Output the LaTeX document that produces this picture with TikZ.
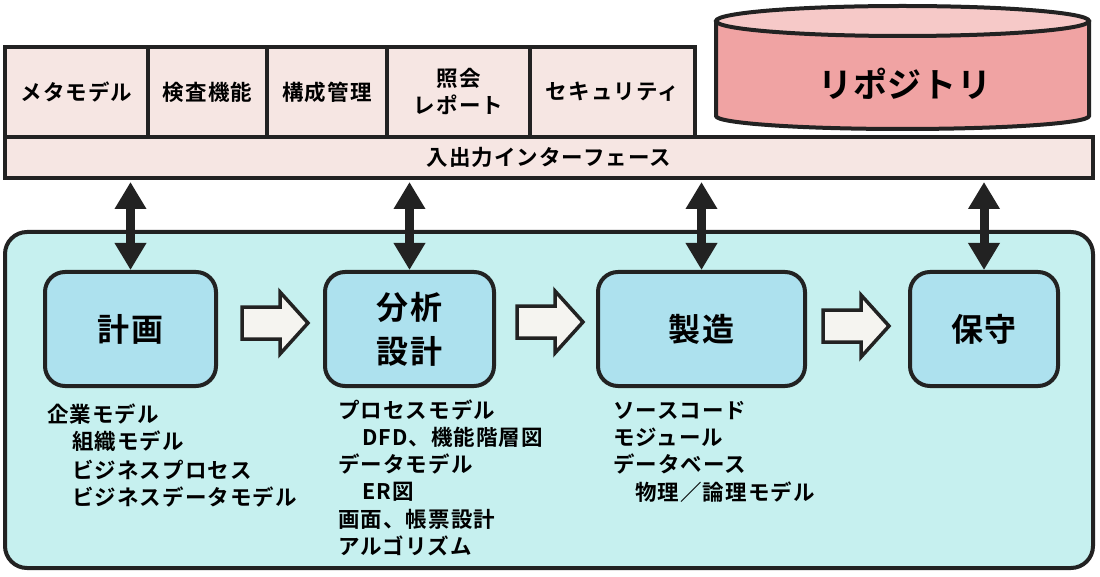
\documentclass[tikz,border=0pt]{standalone}
\usepackage{fontspec}
\setmainfont{Noto Sans CJK JP}[BoldFont={Noto Sans CJK JP Bold}]
\usetikzlibrary{arrows.meta,calc}
\definecolor{lineC}{HTML}{222222}
\definecolor{topC}{HTML}{F6E6E3}
\definecolor{cylBody}{HTML}{F0A3A3}
\definecolor{cylTop}{HTML}{F6C9C8}
\definecolor{mainC}{HTML}{C6F0EF}
\definecolor{stageC}{HTML}{ADE1EE}
\definecolor{blkC}{HTML}{F5F4F0}
\tikzset{
  smallfont/.style={font=\fontsize{21.5}{27}\selectfont\bfseries\addfontfeature{LetterSpace=5}},
  topbox/.style={draw=lineC, line width=4pt, fill=topC, minimum height=90pt, inner sep=0pt, align=center, smallfont},
  stagebox/.style={draw=lineC, line width=4pt, fill=stageC, rounded corners=20pt, minimum height=114pt, inner sep=0pt, align=center, font=\fontsize{32}{44}\selectfont\bfseries\addfontfeature{LetterSpace=4}},
  lst/.style={anchor=base west, inner sep=0pt, smallfont},
  dblarrow/.style={draw=lineC, line width=9pt, {Triangle[width=30pt,length=27pt]}-{Triangle[width=30pt,length=27pt]}, shorten <=2pt, shorten >=0pt},
  blk/.style={draw=lineC, line width=3.5pt, fill=blkC, line join=miter}
}
\newcommand\myblk[2]{%
  \draw[blk] (#1,#2-16) -- ++(38,0) -- ++(0,-15) -- ++(28,31) -- ++(-28,31) -- ++(0,-15) -- ++(-38,0) -- cycle;}
\begin{document}
\begin{tikzpicture}[x=1pt,y=-1pt]
\useasboundingbox (0,0) rectangle (1100,577);
% top boxes
\node[topbox, minimum width=143pt] (meta) at (76.5,92) {メタモデル};
\node[topbox, minimum width=119pt] (kensa) at (207.5,92) {検査機能};
\node[topbox, minimum width=120pt] (kousei) at (327,92) {構成管理};
\node[topbox, minimum width=143pt] (shoukai) at (458.5,92) {照会\\レポート};
\node[topbox, minimum width=165pt] (sec) at (612.5,92) {セキュリティ};
\node[topbox, minimum width=1088pt, minimum height=41pt] (bar) at (549,157.5) {入出力インターフェース};
% repository cylinder
\draw[draw=lineC, line width=4pt, fill=cylBody] (716,20) -- (716,116) arc[start angle=180, end angle=0, x radius=186.5, y radius=13] -- (1089,20);
\draw[draw=lineC, line width=4pt, fill=cylTop] (902.5,21) ellipse[x radius=186.5, y radius=15];
\node[font=\fontsize{34}{40}\selectfont\bfseries\addfontfeature{LetterSpace=2}] (repo) at (905,84) {リポジトリ};
% main area
\draw[draw=lineC, line width=4pt, fill=mainC, rounded corners=22pt] (5,232) rectangle (1093,568);
\node[stagebox, minimum width=171pt] (plan) at (130.5,329) {計画};
\node[stagebox, minimum width=169pt] (anal) at (409.5,329) {分析\\設計};
\node[stagebox, minimum width=207pt] (mfg) at (701.5,329) {製造};
\node[stagebox, minimum width=148pt] (mnt) at (984,329) {保守};
% vertical arrows
\draw[dblarrow] (bar.south -| plan.north) -- (plan.north);
\draw[dblarrow] (bar.south -| anal.north) -- (anal.north);
\draw[dblarrow] (bar.south -| mfg.north) -- (mfg.north);
\draw[dblarrow] (bar.south -| mnt.north) -- (mnt.north);
% block arrows
\myblk{242}{323}
\myblk{517}{322}
\myblk{823}{326}
% lists
\node[lst] (a1) at (47,422) {企業モデル};
\node[lst] (a2) at (72,449) {組織モデル};
\node[lst] (a3) at (72,478) {ビジネスプロセス};
\node[lst] (a4) at (72,505) {ビジネスデータモデル};
\node[lst] (b1) at (338,418) {プロセスモデル};
\node[lst] (b2) at (362,445) {DFD、機能階層図};
\node[lst] (b3) at (338,472) {データモデル};
\node[lst] (b4) at (362,499) {ER図};
\node[lst] (b5) at (338,527) {画面、帳票設計};
\node[lst] (b6) at (338,554) {アルゴリズム};
\node[lst] (c1) at (613,418) {ソースコード};
\node[lst] (c2) at (613,445) {モジュール};
\node[lst] (c3) at (613,472) {データベース};
\node[lst] (c4) at (635,500) {物理／論理モデル};
\end{tikzpicture}
\end{document}
